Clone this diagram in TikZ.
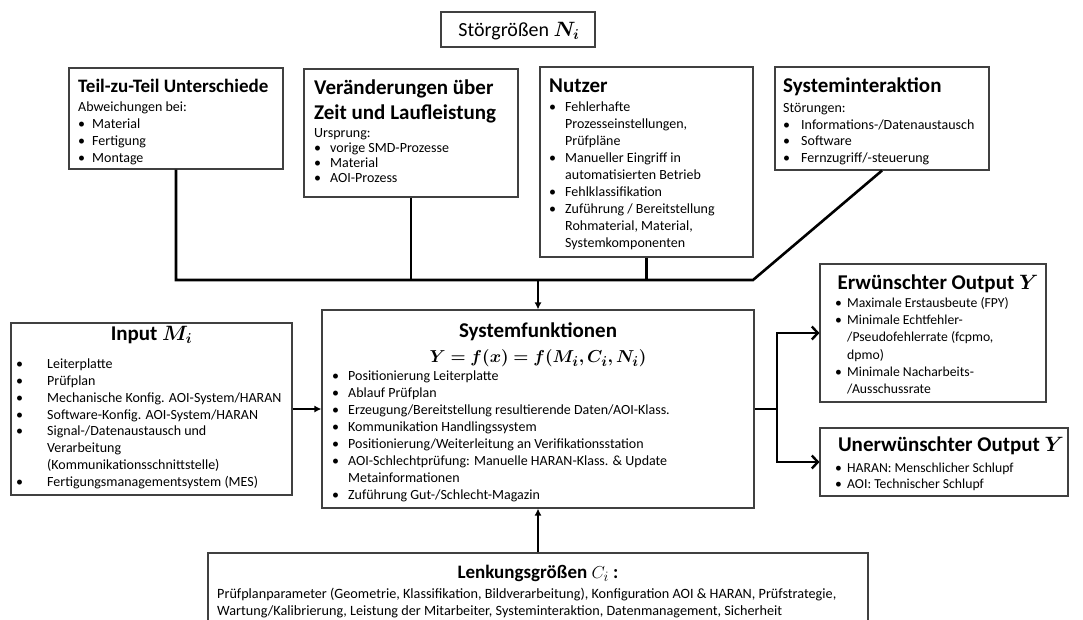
\documentclass[tikz,border=0pt]{standalone}
\usepackage{fontspec}
\setmainfont{Carlito}
\usepackage{amsmath,bm}
\usetikzlibrary{arrows.meta,fit}
\newcommand\fs[2]{\fontsize{#1}{#2}\selectfont}
\newcommand\bu[1][14]{\makebox[#1pt][l]{\textbullet}\ignorespaces}
\newcommand\ind[1][14]{\hspace*{#1pt}\ignorespaces}
\begin{document}
\begin{tikzpicture}[x=1pt,y=-1pt,
  box/.style={draw=black!75, line width=1.1pt, fill=white, inner sep=0pt},
  ttl/.style={inner sep=0pt, anchor=base west, font=\bfseries\fs{21}{25}},
  ctl/.style={inner sep=0pt, anchor=base, font=\bfseries\fs{21}{25}},
  body/.style={inner sep=0pt, anchor=north west, align=left, execute at begin node=\strut},
  conn/.style={line width=2.6pt, black},
  fat/.style={conn, -{Latex[length=7pt,width=7pt]}},
  barb/.style={conn, -{Straight Barb[length=6pt,width=13pt,line width=2.4pt]}}]
\clip (0,0) rectangle (1083,619);
\fill[white] (0,0) rectangle (1083,619);

% boxes
\node[box, fit={(441,12) (595,47)}] (stoer) {};
\node[box, fit={(69,68) (283,169)}] (teil) {};
\node[box, fit={(304,69) (518,197)}] (ver) {};
\node[box, fit={(540,67) (753,257)}] (nutzer) {};
\node[box, fit={(775,67) (989,170)}] (sysint) {};
\node[box, fit={(11,323) (292,495)}] (input) {};
\node[box, fit={(322,310) (754,508)}] (sysfunk) {};
\node[box, fit={(820,264) (1046,402)}] (erw) {};
\node[box, fit={(820,428) (1068,496)}] (unerw) {};
\node[box, fit={(208,553) (868,640)}] (lenk) {};

% disturbance variables
\node[inner sep=0pt, anchor=base, font=\fs{20}{24}] (stoerT) at (519,36) {Störgrößen $\bm{N_i}$};

\node[ttl, font=\bfseries\fs{19}{23}] (teilT) at (78,92) {Teil-zu-Teil Unterschiede};
\node[body, font=\fs{14}{17.1}] (teilB) at (78,101.5) {Abweichungen bei:\\
  \bu Material\\ \bu Fertigung\\ \bu Montage};

\node[body, font=\bfseries\fs{21}{24.5}] (verT) at (314,80) {Veränderungen über\\ Zeit und Laufleistung};
\node[body, font=\fs{14}{15}] (verB) at (314,128.6) {Ursprung:\\
  \bu[16] vorige SMD-Prozesse\\ \bu[16] Material\\ \bu[16] AOI-Prozess};

\node[ttl] (nutzerT) at (549,92) {Nutzer};
\node[body, font=\fs{14}{16.9}] (nutzerB) at (549,101.9) {\bu[16] Fehlerhafte\\
  \ind[16]Prozesseinstellungen,\\ \ind[16]Prüfpläne\\
  \bu[16] Manueller Eingriff in\\ \ind[16]automatisierten Betrieb\\
  \bu[16] Fehlklassifikation\\
  \bu[16] Zuführung / Bereitstellung\\ \ind[16]Rohmaterial, Material,\\ \ind[16]Systemkomponenten};

\node[ttl] (sysintT) at (783,92) {Systeminteraktion};
\node[body, font=\fs{14}{16.9}] (sysintB) at (783,102.7) {Störungen:\\
  \bu[18] Informations-/Datenaustausch\\ \bu[18] Software\\ \bu[18] Fernzugriff/-steuerung};

% input
\node[ctl] (inputT) at (151.5,340) {Input $\bm{M_i}$};
\node[body, font=\fs{14}{16.8}] (inputB) at (16,358.7) {\bu[31] Leiterplatte\\ \bu[31] Prüfplan\\
  \bu[31] Mechanische Konfig. AOI-System/HARAN\\ \bu[31] Software-Konfig. AOI-System/HARAN\\
  \bu[31] Signal-/Datenaustausch und\\ \ind[31]Verarbeitung\\ \ind[31](Kommunikationsschnittstelle)\\
  \bu[31] Fertigungsmanagementsystem (MES)};

% system functions
\node[ctl] (sysfunkT) at (538,337) {Systemfunktionen};
\node[inner sep=0pt, anchor=base, font=\fs{19}{22}] (sysfunkF) at (538,362) {$\bm{Y = f(x) = f(M_i, C_i, N_i)}$};
\node[body, font=\fs{14}{17.1}] (sysfunkB) at (332,370.2) {\bu[16] Positionierung Leiterplatte\\
  \bu[16] Ablauf Prüfplan\\
  \bu[16] Erzeugung/Bereitstellung resultierende Daten/AOI-Klass.\\
  \bu[16] Kommunikation Handlingssystem\\
  \bu[16] Positionierung/Weiterleitung an Verifikationsstation\\
  \bu[16] AOI-Schlechtprüfung: Manuelle HARAN-Klass. \& Update\\ \ind[16]Metainformationen\\
  \bu[16] Zuführung Gut-/Schlecht-Magazin};

% outputs
\node[ctl] (erwT) at (938,289) {Erwünschter Output $\bm{Y}$};
\node[body, font=\fs{13.7}{17.3}] (erwB) at (835,296.9) {\bu[12] Maximale Erstausbeute (FPY)\\
  \bu[12] Minimale Echtfehler-\\ \ind[12]/Pseudofehlerrate (fcpmo,\\ \ind[12]dpmo)\\
  \bu[12] Minimale Nacharbeits-\\ \ind[12]/Ausschussrate};

\node[ctl] (unerwT) at (951,451) {Unerwünschter Output $\bm{Y}$};
\node[body, font=\fs{13.7}{16}] (unerwB) at (835,462.8) {\bu[12] HARAN: Menschlicher Schlupf\\
  \bu[12] AOI: Technischer Schlupf};

% control variables
\node[ctl, font=\bfseries\fs{19}{23}] (lenkT) at (538,578) {Lenkungsgrößen \mdseries$C_i$ \bfseries:};
\node[body, font=\fs{14.2}{16.7}] (lenkB) at (217,587.8) {Prüfplanparameter (Geometrie, Klassifikation, Bildverarbeitung), Konfiguration AOI \& HARAN, Prüfstrategie,\\
  Wartung/Kalibrierung, Leistung der Mitarbeiter, Systeminteraktion, Datenmanagement, Sicherheit};

% connectors
\coordinate (busE) at (753,280);
\coordinate (split) at (777,409);
\draw[conn] (teil.south) |- (busE) -- (sysint.south);
\draw[conn] (ver.south) -- (ver.south |- busE);
\draw[conn] (nutzer.south) -- (nutzer.south |- busE);
\draw[fat] (sysfunk.north |- busE) -- (sysfunk.north);
\draw[fat] (input.east) -- (sysfunk.west);
\draw[fat] (lenk.north) -- (sysfunk.south);
\draw[conn] (sysfunk.east) -- (split);
\draw[barb] (split) |- (erw.west);
\draw[barb] (split) |- (unerw.west);
\end{tikzpicture}
\end{document}
